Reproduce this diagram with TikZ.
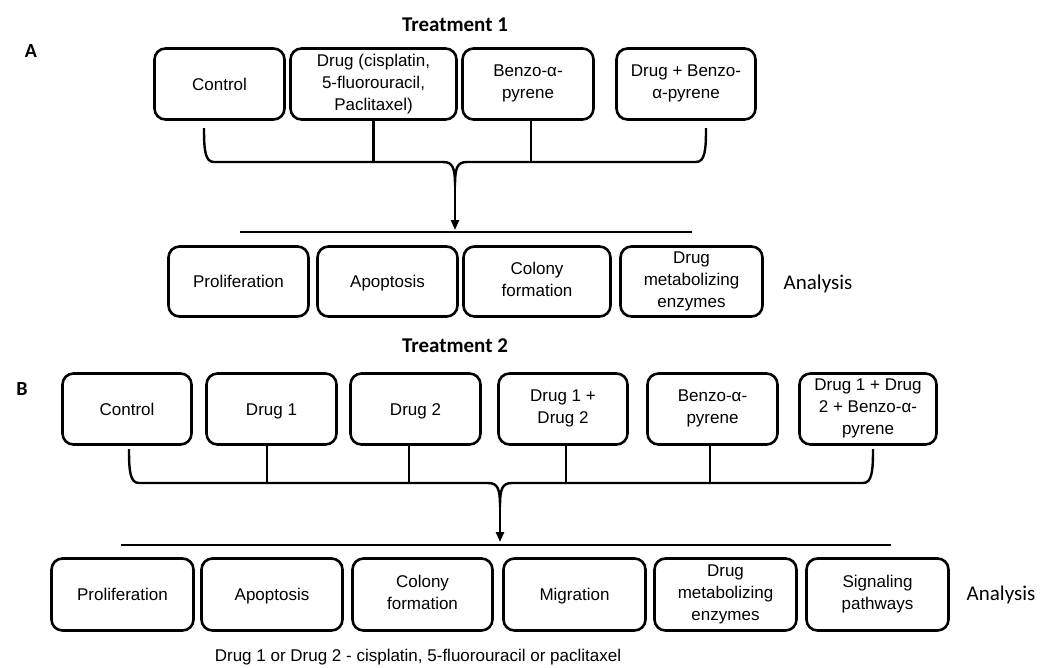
\documentclass[tikz,border=0pt]{standalone}
\usepackage{fontspec}
\setmainfont{Liberation Sans}
\newfontfamily\calibri{Carlito}
\usetikzlibrary{arrows.meta,calc}
\begin{document}
\begin{tikzpicture}[x=1pt,y=-1pt,
  box/.style={draw, line width=2.6pt, rounded corners=11pt, align=center, inner sep=0pt,
    font=\fontsize{17}{22}\selectfont,
    execute at begin node={\rule{0pt}{16pt}}, execute at end node={\rule[-3.8pt]{0pt}{0pt}}},
  conn/.style={line width=2.4pt},
  rulel/.style={line width=2pt},
  arr/.style={-{Triangle[length=10pt,width=8pt]}},
  panel/.style={font=\calibri\bfseries\fontsize{20}{24}\selectfont},
  head/.style={font=\calibri\bfseries\fontsize{21}{25}\selectfont},
  ana/.style={font=\calibri\fontsize{21}{25}\selectfont},
  note/.style={font=\fontsize{17}{20}\selectfont}
]
\useasboundingbox (0,0) rectangle (1040,667);

% ---------------- Panel A ----------------
\node[panel] (labA) at (31,51) {A};
\node[head] (headA) at (455,25) {Treatment 1};

\node[box, minimum width=130pt, minimum height=71pt] (ctlA) at (219.5,84) {Control};
\node[box, minimum width=166pt, minimum height=71pt] (drugA) at (373.5,84) {Drug (cisplatin,\\5-fluorouracil,\\Paclitaxel)};
\node[box, minimum width=131pt, minimum height=71pt] (bapA) at (528,84) {Benzo-α-\\pyrene};
\node[box, minimum width=139pt, minimum height=71pt] (dbA) at (686,84) {Drug + Benzo-\\α-pyrene};

\coordinate (hA) at (455,162);
\coordinate (lA) at (204,128);
\coordinate (rA) at (706,128);
\coordinate (tipA) at (455,230);
\draw[conn] (lA) .. controls (204,150) and (205,162) .. (214,162) -- (443,162)
  .. controls (453,162) and (455,168) .. (455,186)
  .. controls (455,168) and (457,162) .. (467,162) -- (696,162)
  .. controls (705,162) and (706,150) .. (rA);
\draw[conn] (drugA.south) -- (drugA.south |- hA);
\draw[conn] ([xshift=3pt]bapA.south) -- ([xshift=3pt]bapA.south |- hA);
\draw[conn, arr] (455,180) -- (tipA);

\coordinate (ruleAl) at (240,232);
\coordinate (ruleAr) at (692,232);
\draw[rulel] (ruleAl) -- (ruleAr);

\node[box, minimum width=140pt, minimum height=70pt] (prolA) at (238.5,281.5) {Proliferation};
\node[box, minimum width=140pt, minimum height=70pt] (apoA) at (387.5,281.5) {Apoptosis};
\node[box, minimum width=147pt, minimum height=70pt] (colA) at (537,281.5) {Colony\\formation};
\node[box, minimum width=142pt, minimum height=70pt] (dmeA) at (691.5,281.5) {Drug\\metabolizing\\enzymes};
\node[ana] (anaA) at (818,284) {Analysis};

% ---------------- Panel B ----------------
\node[panel] (labB) at (22,389) {B};
\node[head] (headB) at (455,346) {Treatment 2};

\node[box, minimum width=129pt, minimum height=71pt] (ctlB) at (127,409) {Control};
\node[box, minimum width=130pt, minimum height=71pt] (d1B) at (271.5,409) {Drug 1};
\node[box, minimum width=130pt, minimum height=71pt] (d2B) at (415.5,409) {Drug 2};
\node[box, minimum width=129pt, minimum height=71pt] (d12B) at (563,409) {Drug 1 +\\Drug 2};
\node[box, minimum width=130pt, minimum height=71pt] (bapB) at (712.5,409) {Benzo-α-\\pyrene};
\node[box, minimum width=137pt, minimum height=71pt] (allB) at (868,409) {Drug 1 + Drug\\2 + Benzo-α-\\pyrene};

\coordinate (hB) at (500,483);
\coordinate (lB) at (129,449);
\coordinate (rB) at (873,449);
\coordinate (tipB) at (500,542);
\draw[conn] (lB) .. controls (129,471) and (130,483) .. (139,483) -- (488,483)
  .. controls (498,483) and (500,489) .. (500,507)
  .. controls (500,489) and (502,483) .. (512,483) -- (863,483)
  .. controls (872,483) and (873,471) .. (rB);
\draw[conn] ([xshift=-4.5pt]d1B.south) -- ([xshift=-4.5pt]d1B.south |- hB);
\draw[conn] ([xshift=-6.5pt]d2B.south) -- ([xshift=-6.5pt]d2B.south |- hB);
\draw[conn] ([xshift=3pt]d12B.south) -- ([xshift=3pt]d12B.south |- hB);
\draw[conn] ([xshift=-2.5pt]bapB.south) -- ([xshift=-2.5pt]bapB.south |- hB);
\draw[conn, arr] (500,500) -- (tipB);

\coordinate (ruleBl) at (121,545);
\coordinate (ruleBr) at (891,545);
\draw[rulel] (ruleBl) -- (ruleBr);

\node[box, minimum width=142pt, minimum height=72pt] (prolB) at (122.5,594.5) {Proliferation};
\node[box, minimum width=141pt, minimum height=72pt] (apoB) at (272,594.5) {Apoptosis};
\node[box, minimum width=140pt, minimum height=72pt] (colB) at (422.5,594.5) {Colony\\formation};
\node[box, minimum width=142pt, minimum height=72pt] (migB) at (574.5,594.5) {Migration};
\node[box, minimum width=142pt, minimum height=72pt] (dmeB) at (725.5,594.5) {Drug\\metabolizing\\enzymes};
\node[box, minimum width=142pt, minimum height=72pt] (sigB) at (877.5,594.5) {Signaling\\pathways};
\node[ana] (anaB) at (1001,595) {Analysis};

\node[note] (noteB) at (418,657) {Drug 1 or Drug 2 - cisplatin, 5-fluorouracil or paclitaxel};
\end{tikzpicture}
\end{document}
